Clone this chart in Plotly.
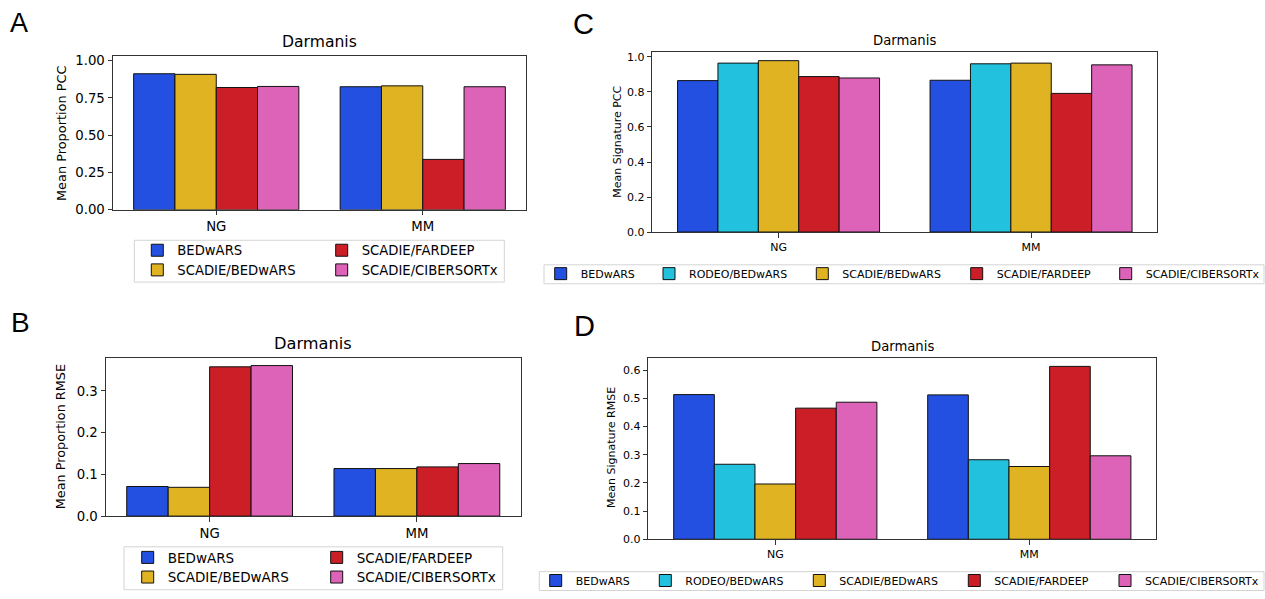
import plotly.graph_objects as go

W, H = 1265, 599

groups = ["NG", "MM"]
methods_prop = ["BEDwARS", "SCADIE/BEDwARS", "SCADIE/FARDEEP", "SCADIE/CIBERSORTx"]
methods_sig = ["BEDwARS", "RODEO/BEDwARS", "SCADIE/BEDwARS", "SCADIE/FARDEEP", "SCADIE/CIBERSORTx"]

prop_pcc_ng = [0.912, 0.908, 0.820, 0.827]
prop_pcc_mm = [0.825, 0.831, 0.338, 0.825]
prop_rmse_ng = [0.071, 0.069, 0.358, 0.361]
prop_rmse_mm = [0.114, 0.114, 0.118, 0.126]
sig_pcc_ng = [0.865, 0.965, 0.979, 0.888, 0.880]
sig_pcc_mm = [0.867, 0.961, 0.965, 0.792, 0.955]
sig_rmse_ng = [0.513, 0.266, 0.196, 0.465, 0.486]
sig_rmse_mm = [0.512, 0.282, 0.258, 0.613, 0.296]

prop_tickvals_pcc = [0, 0.25, 0.5, 0.75, 1.0]
prop_tickvals_rmse = [0, 0.1, 0.2, 0.3]
sig_tickvals_pcc = [0, 0.2, 0.4, 0.6, 0.8, 1.0]
sig_tickvals_rmse = [0, 0.1, 0.2, 0.3, 0.4, 0.5, 0.6]

colors = {
    "BEDwARS": "#2350e0",
    "RODEO/BEDwARS": "#22c2de",
    "SCADIE/BEDwARS": "#dfb321",
    "SCADIE/FARDEEP": "#cc1e27",
    "SCADIE/CIBERSORTx": "#dd63b8",
}

FONT = "DejaVu Sans, Verdana, sans-serif"
LETTER_FONT = "Liberation Sans, Arial, sans-serif"


def px(x):
    return x / W


def py(y):
    return 1 - y / H


# panel geometry in pixels: (left, right, top, bottom)
panels = [
    dict(key="A", box=(113, 526, 54, 210.7), yr=1.031, ng=prop_pcc_ng, mm=prop_pcc_mm,
         methods=methods_prop, tickvals=prop_tickvals_pcc, tfmt=".2f",
         ylabel="Mean Proportion PCC", ylab_xy=(61, 132.5), title_y=39.5,
         fs_title=15.6, fs_tick=13.3, fs_ylab=12.9, fs_leg=13.2,
         letter=(9, 20.5), fs_letter=27,
         leg_items=[(177.3, 252.3), (177.3, 272.3), (361.7, 252.3), (361.7, 272.3)],
         leg_box=(134.3, 504.3, 241.7, 284.3)),
    dict(key="B", box=(106, 520.5, 361.7, 522.7), yr=0.379, ng=prop_rmse_ng, mm=prop_rmse_mm,
         methods=methods_prop, tickvals=prop_tickvals_rmse, tfmt=".1f",
         ylabel="Mean Proportion RMSE", ylab_xy=(61.3, 442), title_y=347,
         fs_title=16.2, fs_tick=13.3, fs_ylab=12.8, fs_leg=13.5,
         letter=(10, 325), fs_letter=28,
         leg_items=[(167.7, 565), (167.7, 585), (356.7, 565), (356.7, 585)],
         leg_box=(124, 502.7, 554, 597.7)),
    dict(key="C", box=(652.3, 1157.3, 50, 233.3), yr=1.028, ng=sig_pcc_ng, mm=sig_pcc_mm,
         methods=methods_sig, tickvals=sig_tickvals_pcc, tfmt=".1f",
         ylabel="Mean Signature PCC", ylab_xy=(616.7, 141.7), title_y=38,
         fs_title=13.2, fs_tick=11, fs_ylab=11, fs_leg=11,
         letter=(572.3, 21), fs_letter=29,
         leg_items=[(580.7, 275.7), (689, 275.7), (842.3, 275.7), (996.7, 275.7), (1145.7, 275.7)],
         leg_box=(544, 1264, 266.7, 286)),
    dict(key="D", box=(648.3, 1156.3, 361.3, 546.3), yr=0.644, ng=sig_rmse_ng, mm=sig_rmse_mm,
         methods=methods_sig, tickvals=sig_tickvals_rmse, tfmt=".1f",
         ylabel="Mean Signature RMSE", ylab_xy=(612, 453.3), title_y=349.5,
         fs_title=13.2, fs_tick=11, fs_ylab=11, fs_leg=11,
         letter=(573.3, 329.5), fs_letter=29,
         leg_items=[(575.7, 588.3), (685.3, 588.3), (839.3, 588.3), (994.3, 588.3), (1145, 588.3)],
         leg_box=(539.3, 1264, 579.3, 598.5)),
]

fig = go.Figure()
layout = {}
annotations = []
shapes = []
leg_counter = 0

for i, p in enumerate(panels):
    n = i + 1
    xa = "x" if n == 1 else f"x{n}"
    ya = "y" if n == 1 else f"y{n}"
    xkey = "xaxis" if n == 1 else f"xaxis{n}"
    ykey = "yaxis" if n == 1 else f"yaxis{n}"
    l, r, t, b = p["box"]
    layout[xkey] = dict(
        domain=[px(l), px(r)], anchor=ya, type="category",
        categoryorder="array", categoryarray=groups,
        range=[-0.5, 1.5], showline=True, mirror=True, linecolor="#333", linewidth=1,
        ticks="outside", ticklen=4.5, tickwidth=1, tickcolor="#333",
        showgrid=False, zeroline=False, fixedrange=True,
        tickfont=dict(family=FONT, size=p["fs_tick"], color="#000"),
    )
    layout[ykey] = dict(
        domain=[py(b), py(t)], anchor=xa, range=[0, p["yr"]],
        tickvals=p["tickvals"], tickformat=p["tfmt"],
        showline=True, mirror=True, linecolor="#333", linewidth=1,
        ticks="outside", ticklen=4.5, tickwidth=1, tickcolor="#333",
        showgrid=False, zeroline=False, fixedrange=True,
        tickfont=dict(family=FONT, size=p["fs_tick"], color="#000"),
    )
    for j, m in enumerate(p["methods"]):
        leg_counter += 1
        lkey = "legend" if leg_counter == 1 else f"legend{leg_counter}"
        tx, ty = p["leg_items"][j]
        layout[lkey] = dict(
            x=px(tx - 40), xanchor="left", y=py(ty), yanchor="middle",
            orientation="v", bgcolor="rgba(0,0,0,0)", borderwidth=0,
            font=dict(family=FONT, size=p["fs_leg"], color="#000"),
        )
        fig.add_trace(go.Bar(
            x=groups, y=[p["ng"][j], p["mm"][j]], name=m,
            marker=dict(color=colors[m], line=dict(color="#111", width=1)),
            xaxis=xa, yaxis=ya, legend=lkey, showlegend=True,
            offsetgroup=str(j),
        ))
    # title
    annotations.append(dict(
        text="Darmanis", x=px((l + r) / 2), y=py(p["title_y"]), xref="paper", yref="paper",
        xanchor="center", yanchor="middle", showarrow=False,
        font=dict(family=FONT, size=p["fs_title"], color="#000"),
    ))
    # y axis title
    yx, yy = p["ylab_xy"]
    annotations.append(dict(
        text=p["ylabel"], x=px(yx), y=py(yy), xref="paper", yref="paper",
        xanchor="center", yanchor="middle", showarrow=False, textangle=-90,
        font=dict(family=FONT, size=p["fs_ylab"], color="#000"),
    ))
    # panel letter
    lx, lyc = p["letter"]
    annotations.append(dict(
        text=p["key"], x=px(lx - 1), y=py(lyc), xref="paper", yref="paper",
        xanchor="left", yanchor="middle", showarrow=False,
        font=dict(family=LETTER_FONT, size=p["fs_letter"], color="#000"),
    ))
    # legend frame
    bl, br, bt, bb = p["leg_box"]
    shapes.append(dict(
        type="rect", xref="paper", yref="paper",
        x0=px(bl), x1=px(br), y0=py(bb), y1=py(bt),
        line=dict(color="#d4d4d4", width=1), fillcolor="rgba(255,255,255,0.8)", layer="below",
    ))

fig.update_layout(
    width=W, height=H, margin=dict(l=0, r=0, t=0, b=0),
    paper_bgcolor="white", plot_bgcolor="white",
    barmode="group", bargap=0.2, bargroupgap=0,
    annotations=annotations, shapes=shapes,
    font=dict(family=FONT, color="#000"),
    **layout,
)

fig.write_html("out.html")
